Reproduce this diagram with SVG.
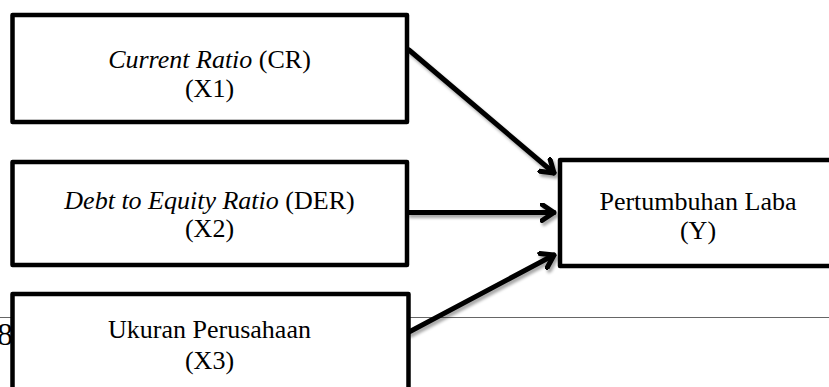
<svg xmlns="http://www.w3.org/2000/svg" width="829" height="387" viewBox="0 0 829 387">
<style>
.box{fill:#fff;stroke:#000;stroke-width:4.5;stroke-linejoin:round}
.t{font-family:"Liberation Serif","Times New Roman",serif;font-size:26px;fill:#000;text-anchor:middle}
.i{font-style:italic}
.c{fill:none;stroke:#000;stroke-width:5;stroke-linecap:round;stroke-linejoin:round}
</style>
<defs>
<filter id="sh" x="-20%" y="-20%" width="140%" height="140%">
<feDropShadow dx="2" dy="3" stdDeviation="1.5" flood-color="#000" flood-opacity="0.35"/>
</filter>
<marker id="ah" viewBox="-14 -10 16 20" markerWidth="16" markerHeight="20" refX="0" refY="0" orient="auto" markerUnits="userSpaceOnUse">
<path d="M-12,-8 L0,0 L-12,8" fill="none" stroke="#000" stroke-width="5" stroke-linecap="round" stroke-linejoin="round"/>
</marker>
</defs>
<line x1="0" y1="317.5" x2="829" y2="317.5" stroke="#666" stroke-width="1.2"/>
<text x="-3" y="345" font-family="Liberation Serif, serif" font-size="32">8</text>
<g id="connectors" filter="url(#sh)">
<line class="c" x1="409" y1="50" x2="554" y2="173" marker-end="url(#ah)"/>
<line class="c" x1="409" y1="212.5" x2="554" y2="212.5" marker-end="url(#ah)"/>
<line class="c" x1="409" y1="332" x2="554" y2="255" marker-end="url(#ah)"/>
</g>
<g id="x1">
<rect class="box" x="12.5" y="15" width="394.5" height="107"/>
<text class="t" x="209.5" y="68"><tspan class="i">Current Ratio</tspan> (CR)</text>
<text class="t" x="209.5" y="97">(X1)</text>
</g>
<g id="x2">
<rect class="box" x="12.5" y="162" width="394.5" height="103"/>
<text class="t" x="209.5" y="209"><tspan class="i">Debt to Equity Ratio</tspan> (DER)</text>
<text class="t" x="209.5" y="237">(X2)</text>
</g>
<g id="x3">
<rect class="box" x="12.5" y="294" width="396" height="110"/>
<text class="t" x="209.5" y="338">Ukuran Perusahaan</text>
<text class="t" x="209.5" y="369">(X3)</text>
</g>
<g id="y">
<rect class="box" x="560" y="160" width="290" height="106"/>
<text class="t" x="698" y="210">Pertumbuhan Laba</text>
<text class="t" x="698" y="239">(Y)</text>
</g>
</svg>
